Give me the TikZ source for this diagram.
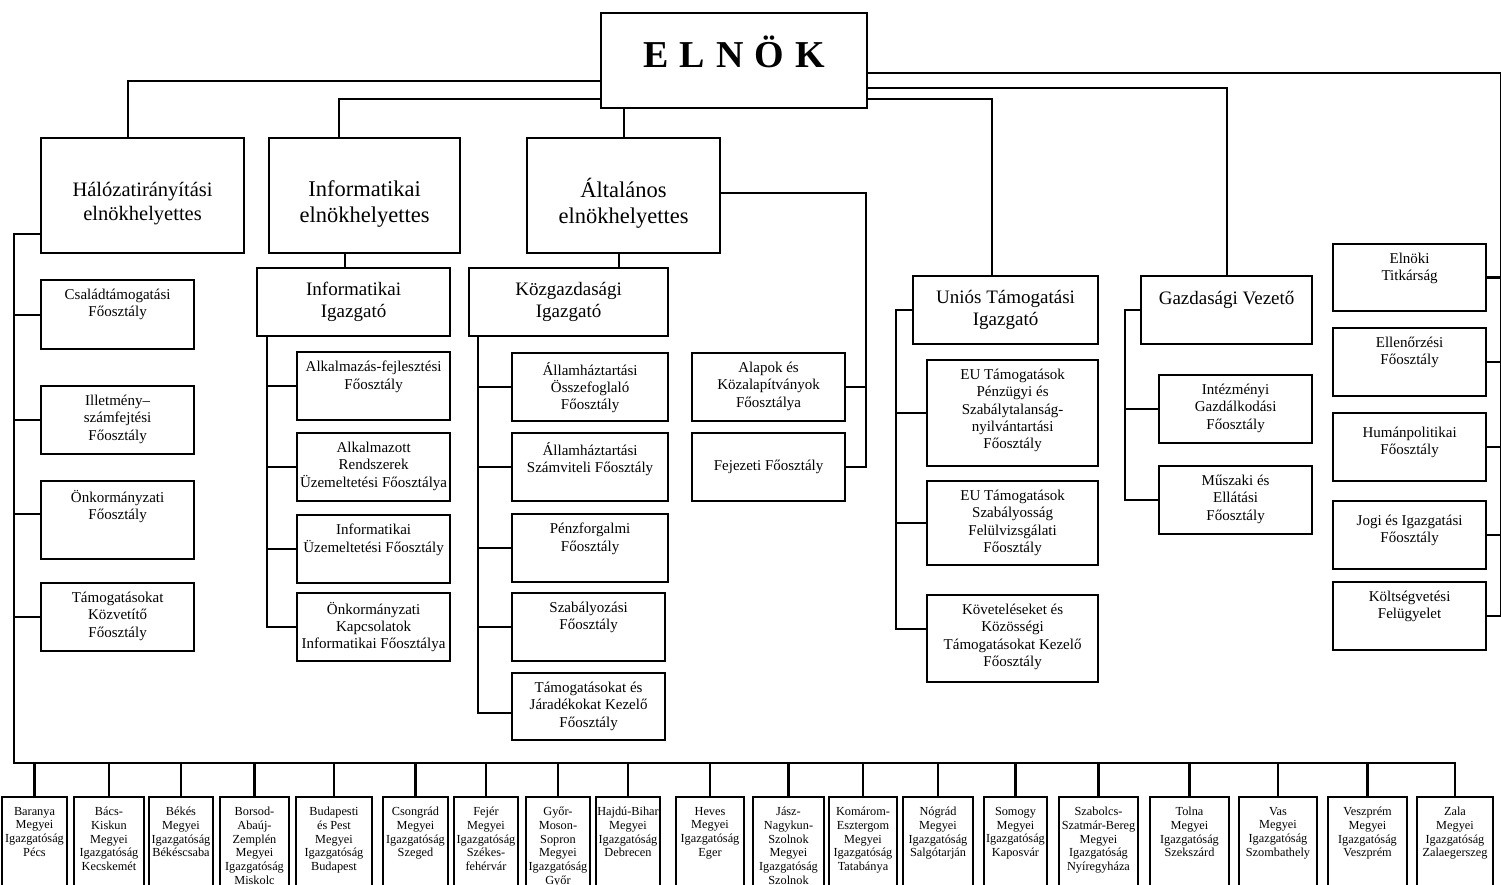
\documentclass[tikz,border=0pt]{standalone}
\usepackage{fontspec}
\setmainfont{Liberation Serif}
\newcommand\elnokfont{\fontsize{38}{42}\selectfont\bfseries}
\newcommand\hdfont{\fontsize{22.5}{26}\selectfont}
\newcommand\hdsfont{\fontsize{20.5}{24}\selectfont}
\newcommand\igfont{\fontsize{19}{21.5}\selectfont}
\newcommand\fofont{\fontsize{15}{17.3}\selectfont}
\newcommand\mgfont{\fontsize{12.3}{13.7}\selectfont}
\tikzset{
  dept/.style={draw, line width=2.2pt, anchor=north west, inner sep=0pt},
  tx/.style={anchor=north, align=center, inner sep=0pt, font=\fofont, yshift=-10pt},
  hd/.style={align=center, inner sep=0pt, yshift=-8pt},
  mg/.style={draw, line width=2.2pt, anchor=north, inner sep=0pt, minimum height=110},
  mgtx/.style={anchor=north, align=center, inner sep=0pt, font=\mgfont, yshift=-11pt},
  conn/.style={line width=2.2pt}
}
\begin{document}
\begin{tikzpicture}[x=1pt,y=-1pt]
\useasboundingbox (0,0) rectangle (1501,885);
\clip (0,0) rectangle (1501,885);

% top level
\node(elnok) at (600,12) [dept, minimum width=266, minimum height=95, label={[font=\elnokfont, yshift=9pt]center:{E\hspace{11pt}L\hspace{11pt}N\hspace{11pt}Ö\hspace{11pt}K}}]{};

\node(halo) at (40,137) [dept, minimum width=203, minimum height=115, label={[hd, font=\hdsfont]center:{Hálózatirányítási\\elnökhelyettes}}]{};
\node(infe) at (268,137) [dept, minimum width=191, minimum height=115, label={[hd, font=\hdfont]center:{Informatikai\\elnökhelyettes}}]{};
\node(alt) at (526,137) [dept, minimum width=193, minimum height=115, label={[hd, font=\hdfont]center:{Általános\\elnökhelyettes}}]{};

\node(infig) at (256,267) [dept, minimum width=193, minimum height=68, font=\igfont, align=center]{Informatikai\\Igazgató};
\node(kozig) at (468,267) [dept, minimum width=199, minimum height=68, font=\igfont, align=center]{Közgazdasági\\Igazgató};
\node(unig) at (912,275) [dept, minimum width=185, minimum height=68, font=\igfont, align=center]{Uniós Támogatási\\Igazgató};
\node(gazd) at (1140,275) [dept, minimum width=171, minimum height=68, label={[tx, font=\igfont, yshift=-6pt]north:{Gazdasági Vezető}}]{};

% halozatiranyitas
\node(csal) at (40,279) [dept, minimum width=153, minimum height=69, label={[tx]north:{Családtámogatási\\Főosztály}}]{};
\node(illet) at (40,385) [dept, minimum width=153, minimum height=68, label={[tx]north:{Illetmény–\\számfejtési\\Főosztály}}]{};
\node(onk) at (40,480) [dept, minimum width=153, minimum height=78, label={[tx]north:{Önkormányzati\\Főosztály}}]{};
\node(tamk) at (40,582) [dept, minimum width=153, minimum height=68, label={[tx]north:{Támogatásokat\\Közvetítő\\Főosztály}}]{};

% informatika
\node(alkf) at (296,351) [dept, minimum width=153, minimum height=68, label={[tx]north:{Alkalmazás-fejlesztési\\Főosztály}}]{};
\node(alkr) at (296,432) [dept, minimum width=153, minimum height=68, label={[tx]north:{Alkalmazott\\Rendszerek\\Üzemeltetési Főosztálya}}]{};
\node(infu) at (296,514) [dept, minimum width=153, minimum height=68, label={[tx]north:{Informatikai\\Üzemeltetési Főosztály}}]{};
\node(onkk) at (296,592) [dept, minimum width=153, minimum height=68, label={[tx]north:{Önkormányzati\\Kapcsolatok\\Informatikai Főosztálya}}]{};

% kozgazdasag
\node(ahto) at (511,352) [dept, minimum width=156, minimum height=68, label={[tx]north:{Államháztartási\\Összefoglaló\\Főosztály}}]{};
\node(ahsz) at (511,432) [dept, minimum width=156, minimum height=68, label={[tx]north:{Államháztartási\\Számviteli Főosztály}}]{};
\node(penz) at (511,513) [dept, minimum width=156, minimum height=68, label={[tx]north:{Pénzforgalmi\\Főosztály}}]{};
\node(szab) at (511,592) [dept, minimum width=153, minimum height=68, label={[tx]north:{Szabályozási\\Főosztály}}]{};
\node(tamj) at (511,672) [dept, minimum width=153, minimum height=67, label={[tx]north:{Támogatásokat és\\Járadékokat Kezelő\\Főosztály}}]{};

\node(alap) at (691,352) [dept, minimum width=153, minimum height=68, label={[tx]north:{Alapok és\\Közalapítványok\\Főosztálya}}]{};
\node(fej) at (691,432) [dept, minimum width=153, minimum height=68, font=\fofont]{Fejezeti Főosztály};

% unios tamogatas
\node(eupz) at (926,359) [dept, minimum width=171, minimum height=106, label={[tx]north:{EU Támogatások\\Pénzügyi és\\Szabálytalanság-\\nyilvántartási\\Főosztály}}]{};
\node(eusz) at (926,480) [dept, minimum width=171, minimum height=84, label={[tx]north:{EU Támogatások\\Szabályosság\\Felülvizsgálati\\Főosztály}}]{};
\node(kovet) at (926,594) [dept, minimum width=171, minimum height=87, label={[tx]north:{Követeléseket és\\Közösségi\\Támogatásokat Kezelő\\Főosztály}}]{};

% gazdasagi vezeto
\node(intg) at (1158,374) [dept, minimum width=153, minimum height=68, label={[tx]north:{Intézményi\\Gazdálkodási\\Főosztály}}]{};
\node(musz) at (1158,465) [dept, minimum width=153, minimum height=68, label={[tx]north:{Műszaki és\\Ellátási\\Főosztály}}]{};

% elnok alatt
\node(tit) at (1332,243) [dept, minimum width=153, minimum height=67, label={[tx]north:{Elnöki\\Titkárság}}]{};
\node(ell) at (1332,327) [dept, minimum width=153, minimum height=68, label={[tx]north:{Ellenőrzési\\Főosztály}}]{};
\node(hum) at (1332,412) [dept, minimum width=153, minimum height=68, label={[tx, yshift=-5pt]north:{Humánpolitikai\\Főosztály}}]{};
\node(jogi) at (1332,500) [dept, minimum width=153, minimum height=68, label={[tx, yshift=-5pt]north:{Jogi és Igazgatási\\Főosztály}}]{};
\node(kolt) at (1332,581) [dept, minimum width=153, minimum height=68, label={[tx]north:{Költségvetési\\Felügyelet}}]{};

% megyei igazgatosagok
\node(bar) at (34.5,796) [mg, minimum width=65, label={[mgtx]north:{Baranya\\Megyei\\Igazgatóság\\Pécs}}]{};
\node(bacs) at (109,796) [mg, minimum width=70, label={[mgtx]north:{Bács-\\Kiskun\\Megyei\\Igazgatóság\\Kecskemét}}]{};
\node(bek) at (181,796) [mg, minimum width=64, label={[mgtx]north:{Békés\\Megyei\\Igazgatóság\\Békéscsaba}}]{};
\node(bor) at (254.5,796) [mg, minimum width=69, label={[mgtx]north:{Borsod-\\Abaúj-\\Zemplén\\Megyei\\Igazgatóság\\Miskolc}}]{};
\node(bud) at (334,796) [mg, minimum width=76, label={[mgtx]north:{Budapesti\\és Pest\\Megyei\\Igazgatóság\\Budapest}}]{};
\node(cso) at (415.5,796) [mg, minimum width=65, label={[mgtx]north:{Csongrád\\Megyei\\Igazgatóság\\Szeged}}]{};
\node(fejm) at (486,796) [mg, minimum width=64, label={[mgtx]north:{Fejér\\Megyei\\Igazgatóság\\Székes-\\fehérvár}}]{};
\node(gyor) at (558,796) [mg, minimum width=64, label={[mgtx]north:{Győr-\\Moson-\\Sopron\\Megyei\\Igazgatóság\\Győr}}]{};
\node(hajdu) at (628,796) [mg, minimum width=64, label={[mgtx]north:{Hajdú-Bihar\\Megyei\\Igazgatóság\\Debrecen}}]{};
\node(hev) at (710,796) [mg, minimum width=68, label={[mgtx]north:{Heves\\Megyei\\Igazgatóság\\Eger}}]{};
\node(jasz) at (788.5,796) [mg, minimum width=71, label={[mgtx]north:{Jász-\\Nagykun-\\Szolnok\\Megyei\\Igazgatóság\\Szolnok}}]{};
\node(kom) at (863,796) [mg, minimum width=68, label={[mgtx]north:{Komárom-\\Esztergom\\Megyei\\Igazgatóság\\Tatabánya}}]{};
\node(nog) at (938,796) [mg, minimum width=70, label={[mgtx]north:{Nógrád\\Megyei\\Igazgatóság\\Salgótarján}}]{};
\node(som) at (1015.5,796) [mg, minimum width=63, label={[mgtx]north:{Somogy\\Megyei\\Igazgatóság\\Kaposvár}}]{};
\node(szsz) at (1098.5,796) [mg, minimum width=79, label={[mgtx]north:{Szabolcs-\\Szatmár-Bereg\\Megyei\\Igazgatóság\\Nyíregyháza}}]{};
\node(tol) at (1189.5,796) [mg, minimum width=79, label={[mgtx]north:{Tolna\\Megyei\\Igazgatóság\\Szekszárd}}]{};
\node(vas) at (1278,796) [mg, minimum width=78, label={[mgtx]north:{Vas\\Megyei\\Igazgatóság\\Szombathely}}]{};
\node(vesz) at (1367.5,796) [mg, minimum width=79, label={[mgtx]north:{Veszprém\\Megyei\\Igazgatóság\\Veszprém}}]{};
\node(zala) at (1455,796) [mg, minimum width=76, label={[mgtx]north:{Zala\\Megyei\\Igazgatóság\\Zalaegerszeg}}]{};

% elnok connections
\draw [conn] ([yshift=-20.5pt]elnok.west) -| ([xshift=-14.5pt]halo.north);
\draw [conn] ([yshift=-38.5pt]elnok.west) -| ([xshift=-25.5pt]infe.north);
\draw [conn] (alt.north) -- (alt.north |- elnok.south);
\draw [conn] ([yshift=-38.5pt]elnok.east) -| ([xshift=-13.5pt]unig.north);
\draw [conn] ([yshift=-27.5pt]elnok.east) -| (gazd.north);
\coordinate (rbus) at ([xshift=14pt]kolt.east);
\draw [conn] ([yshift=-12.5pt]elnok.east) -| (rbus) -- (kolt.east);
\draw [conn] (tit.east) -- (tit.east -| rbus);
\draw [conn] (ell.east) -- (ell.east -| rbus);
\draw [conn] (hum.east) -- (hum.east -| rbus);
\draw [conn] (jogi.east) -- (jogi.east -| rbus);

% halozatiranyitas + megyek
\coordinate (busL) at (14,763);
\draw [conn] ([yshift=-38.5pt]halo.west) -| (busL) -- (busL -| zala.north) -- (zala.north);
\draw [conn] (csal.west) -- (csal.west -| busL);
\draw [conn] (illet.west) -- (illet.west -| busL);
\draw [conn] ([yshift=6pt]onk.west) -- ([yshift=6pt]onk.west -| busL);
\draw [conn] (tamk.west) -- (tamk.west -| busL);
\draw [conn] (bar.north) -- (bar.north |- busL);
\draw [conn] (bacs.north) -- (bacs.north |- busL);
\draw [conn] (bek.north) -- (bek.north |- busL);
\draw [conn] (bor.north) -- (bor.north |- busL);
\draw [conn] (bud.north) -- (bud.north |- busL);
\draw [conn] (cso.north) -- (cso.north |- busL);
\draw [conn] (fejm.north) -- (fejm.north |- busL);
\draw [conn] (gyor.north) -- (gyor.north |- busL);
\draw [conn] (hajdu.north) -- (hajdu.north |- busL);
\draw [conn] (hev.north) -- (hev.north |- busL);
\draw [conn] (jasz.north) -- (jasz.north |- busL);
\draw [conn] (kom.north) -- (kom.north |- busL);
\draw [conn] (nog.north) -- (nog.north |- busL);
\draw [conn] (som.north) -- (som.north |- busL);
\draw [conn] (szsz.north) -- (szsz.north |- busL);
\draw [conn] (tol.north) -- (tol.north |- busL);
\draw [conn] (vas.north) -- (vas.north |- busL);
\draw [conn] (vesz.north) -- (vesz.north |- busL);

% informatika
\draw [conn] ([xshift=-8.5pt]infig.north) -- ([xshift=-8.5pt]infig.north |- infe.south);
\coordinate (infbus) at ([xshift=11pt]infig.south west);
\draw [conn] (infbus) |- (onkk.west);
\draw [conn] (alkf.west) -- (alkf.west -| infbus);
\draw [conn] (alkr.west) -- (alkr.west -| infbus);
\draw [conn] (infu.west) -- (infu.west -| infbus);

% altalanos
\draw [conn] ([xshift=-5pt]alt.south) -- ([xshift=-5pt]alt.south |- kozig.north);
\coordinate (kozbus) at ([xshift=10pt]kozig.south west);
\draw [conn] (kozbus) |- ([yshift=-6.5pt]tamj.west);
\draw [conn] (ahto.west) -- (ahto.west -| kozbus);
\draw [conn] (ahsz.west) -- (ahsz.west -| kozbus);
\draw [conn] (penz.west) -- (penz.west -| kozbus);
\draw [conn] (szab.west) -- (szab.west -| kozbus);
\coordinate (altbus) at ([xshift=20pt]fej.east);
\draw [conn] ([yshift=2.5pt]alt.east) -| (altbus) -- (fej.east);
\draw [conn] (alap.east) -- (alap.east -| altbus);

% unios
\coordinate (unbus) at ([xshift=-30pt,yshift=10pt]kovet.west);
\draw [conn] (unig.west) -| (unbus) -- (unbus -| kovet.west);
\draw [conn] (eupz.west) -- (eupz.west -| unbus);
\draw [conn] (eusz.west) -- (eusz.west -| unbus);

% gazdasagi
\coordinate (gzbus) at ([xshift=-33pt]musz.west);
\draw [conn] (gazd.west) -| (gzbus) -- (musz.west);
\draw [conn] (intg.west) -- (intg.west -| gzbus);

\end{tikzpicture}
\end{document}
